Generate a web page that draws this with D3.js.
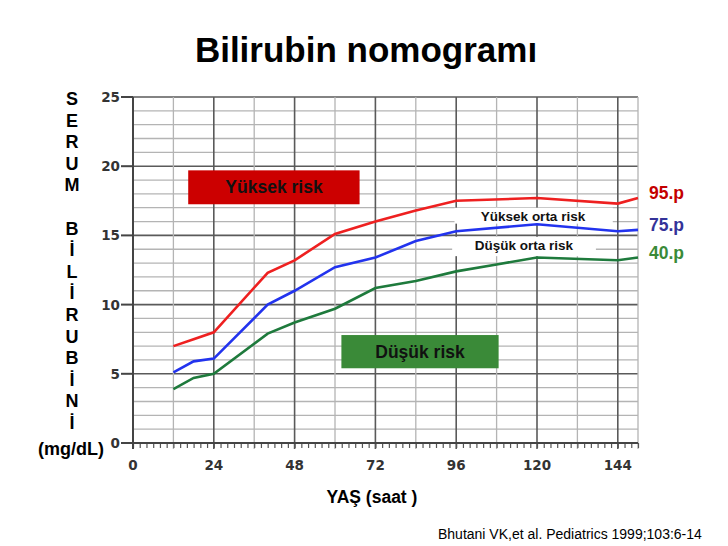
<!DOCTYPE html>
<html>
<head>
<meta charset="utf-8">
<script src="https://cdn.jsdelivr.net/npm/d3@7"></script>
<style>
  body { margin: 0; background: #fff; }
  text { font-family: "Liberation Sans", Arial, sans-serif; }
  .tick-lbl { font-family: "DejaVu Sans", Verdana, sans-serif; font-weight: bold; font-size: 13.5px; fill: #333; }
</style>
</head>
<body>
<div id="chart"></div>
<script>
// data (hours, mg/dL)
var hours95 = [12, 18, 24, 40, 48, 60, 72, 84, 96, 120, 144, 150];
var p95 = [7.0, 7.5, 8.0, 12.3, 13.2, 15.1, 16.0, 16.8, 17.5, 17.7, 17.3, 17.7];
var hours75 = [12, 18, 24, 40, 48, 60, 72, 84, 96, 120, 144, 150];
var p75 = [5.1, 5.9, 6.1, 10.0, 11.0, 12.7, 13.4, 14.6, 15.3, 15.8, 15.3, 15.4];
var hours40 = [12, 18, 24, 40, 48, 60, 72, 84, 96, 108, 120, 144, 150];
var p40 = [3.9, 4.7, 5.0, 7.9, 8.7, 9.7, 11.2, 11.7, 12.4, 12.9, 13.4, 13.2, 13.4];

var xTicks = [0, 24, 48, 72, 96, 120, 144];
var yTicks = [0, 5, 10, 15, 20, 25];
var yLetters = ["S", "E", "R", "U", "M", "", "B", "İ", "L", "İ", "R", "U", "B", "İ", "N", "İ"];

var svgWidth = 728;
var svgHeight = 546;

var svg = d3.select("#chart")
  .append("svg")
  .attr("width", svgWidth)
  .attr("height", svgHeight);

var x = d3.scaleLinear().domain([0, 150]).range([133, 638]);
var y = d3.scaleLinear().domain([0, 25]).range([443, 97]);

// grid
var grid = svg.append("g");
grid.selectAll(".hmin")
  .data(d3.range(1, 26))
  .enter()
  .append("line")
  .attr("x1", x(0)).attr("x2", x(150))
  .attr("y1", d => y(d)).attr("y2", d => y(d))
  .attr("stroke", d => d % 5 === 0 ? "#5a5a5a" : "#b4b4b4")
  .attr("stroke-width", d => d % 5 === 0 ? 1.6 : 1.3);

grid.selectAll(".vmin")
  .data(d3.range(12, 151, 12).concat([150]))
  .enter()
  .append("line")
  .attr("x1", d => x(d)).attr("x2", d => x(d))
  .attr("y1", y(25)).attr("y2", y(0) + 6)
  .attr("stroke", d => d % 24 === 0 ? "#5a5a5a" : "#b4b4b4")
  .attr("stroke-width", d => d % 24 === 0 ? 1.6 : 1.3);

// minor x ticks every 2 hours
var bottomAxis = d3.axisBottom(x)
  .tickValues(d3.range(0, 151, 2))
  .tickSize(5)
  .tickFormat("");
var xAxisG = svg.append("g")
  .attr("transform", `translate(0, ${y(0)})`)
  .call(bottomAxis);
xAxisG.select(".domain").remove();
xAxisG.selectAll("line").attr("stroke", "#555").attr("stroke-width", 1.2);

// main axis lines
svg.append("line")
  .attr("x1", x(0)).attr("x2", x(150))
  .attr("y1", y(0)).attr("y2", y(0))
  .attr("stroke", "#444").attr("stroke-width", 2);
svg.append("line")
  .attr("x1", x(0)).attr("x2", x(0))
  .attr("y1", y(25)).attr("y2", y(0) + 6)
  .attr("stroke", "#444").attr("stroke-width", 2);

// y ticks
svg.selectAll(".ytick")
  .data(yTicks)
  .enter()
  .append("line")
  .attr("x1", x(0) - 12).attr("x2", x(0))
  .attr("y1", d => y(d)).attr("y2", d => y(d))
  .attr("stroke", "#444").attr("stroke-width", 2);

svg.selectAll(".ylbl")
  .data(yTicks)
  .enter()
  .append("text")
  .attr("class", "tick-lbl")
  .attr("x", x(0) - 13)
  .attr("y", d => y(d) + 5)
  .attr("text-anchor", "end")
  .text(d => d);

svg.selectAll(".xlbl")
  .data(xTicks)
  .enter()
  .append("text")
  .attr("class", "tick-lbl")
  .attr("x", d => x(d))
  .attr("y", y(0) + 27)
  .attr("text-anchor", "middle")
  .text(d => d);

// risk zone boxes
function box(x0, x1, y0, y1, fill, label, size, tx, ty) {
  svg.append("rect")
    .attr("x", x(x0)).attr("y", y(y1))
    .attr("width", x(x1) - x(x0)).attr("height", y(y0) - y(y1))
    .attr("fill", fill);
  svg.append("text")
    .attr("x", tx)
    .attr("y", ty)
    .attr("text-anchor", "middle")
    .style("font-weight", "bold")
    .style("font-size", size + "px")
    .style("fill", "#111")
    .text(label);
}
box(16.4, 67.3, 17.25, 19.7, "#cc0000", "Yüksek risk", 17.5, 274, 193);
box(61.9, 108.6, 5.4, 7.8, "#3a8a38", "Düşük risk", 17.5, 420, 358);
box(95.5, 142.5, 15.85, 17.0, "#ffffff", "Yüksek orta risk", 13.5, 533, 221);
box(94.8, 137.5, 13.5, 14.9, "#ffffff", "Düşük orta risk", 13.5, 524, 250);

// percentile lines
var line = d3.line()
  .x(d => x(d[0]))
  .y(d => y(d[1]));

var series = [
  { h: hours95, v: p95, color: "#ee2020" },
  { h: hours75, v: p75, color: "#2233ee" },
  { h: hours40, v: p40, color: "#1e7a3c" }
];
series.forEach(function (s) {
  svg.append("path")
    .datum(d3.zip(s.h, s.v))
    .attr("d", line)
    .attr("fill", "none")
    .attr("stroke", s.color)
    .attr("stroke-width", 2.6);
});

// percentile labels, baseline at each line's last value
var pLabels = [
  { t: "95.p", v: p95[p95.length - 1], c: "#c40000" },
  { t: "75.p", v: p75[p75.length - 1], c: "#333399" },
  { t: "40.p", v: p40[p40.length - 1], c: "#3a8a38" }
];
svg.selectAll(".plbl")
  .data(pLabels)
  .enter()
  .append("text")
  .attr("x", 649)
  .attr("y", d => y(d.v) + 1)
  .style("font-weight", "bold")
  .style("font-size", "17.5px")
  .style("fill", d => d.c)
  .text(d => d.t);

// title
svg.append("text")
  .attr("x", 366).attr("y", 62)
  .attr("text-anchor", "middle")
  .style("font-weight", "bold")
  .style("font-size", "35px")
  .text("Bilirubin nomogramı");

// vertical y label
svg.selectAll(".yletter")
  .data(yLetters)
  .enter()
  .append("text")
  .attr("x", 72)
  .attr("y", (d, i) => 105 + i * 21.6)
  .attr("text-anchor", "middle")
  .style("font-weight", "bold")
  .style("font-size", "18px")
  .text(d => d);

svg.append("text")
  .attr("x", 71).attr("y", 455)
  .attr("text-anchor", "middle")
  .style("font-weight", "bold")
  .style("font-size", "18px")
  .text("(mg/dL)");

svg.append("text")
  .attr("x", 372).attr("y", 503)
  .attr("text-anchor", "middle")
  .style("font-weight", "bold")
  .style("font-size", "17.5px")
  .text("YAŞ (saat )");

svg.append("text")
  .attr("x", 438).attr("y", 539)
  .style("font-size", "14px")
  .text("Bhutani VK,et al. Pediatrics 1999;103:6-14");
</script>
</body>
</html>
